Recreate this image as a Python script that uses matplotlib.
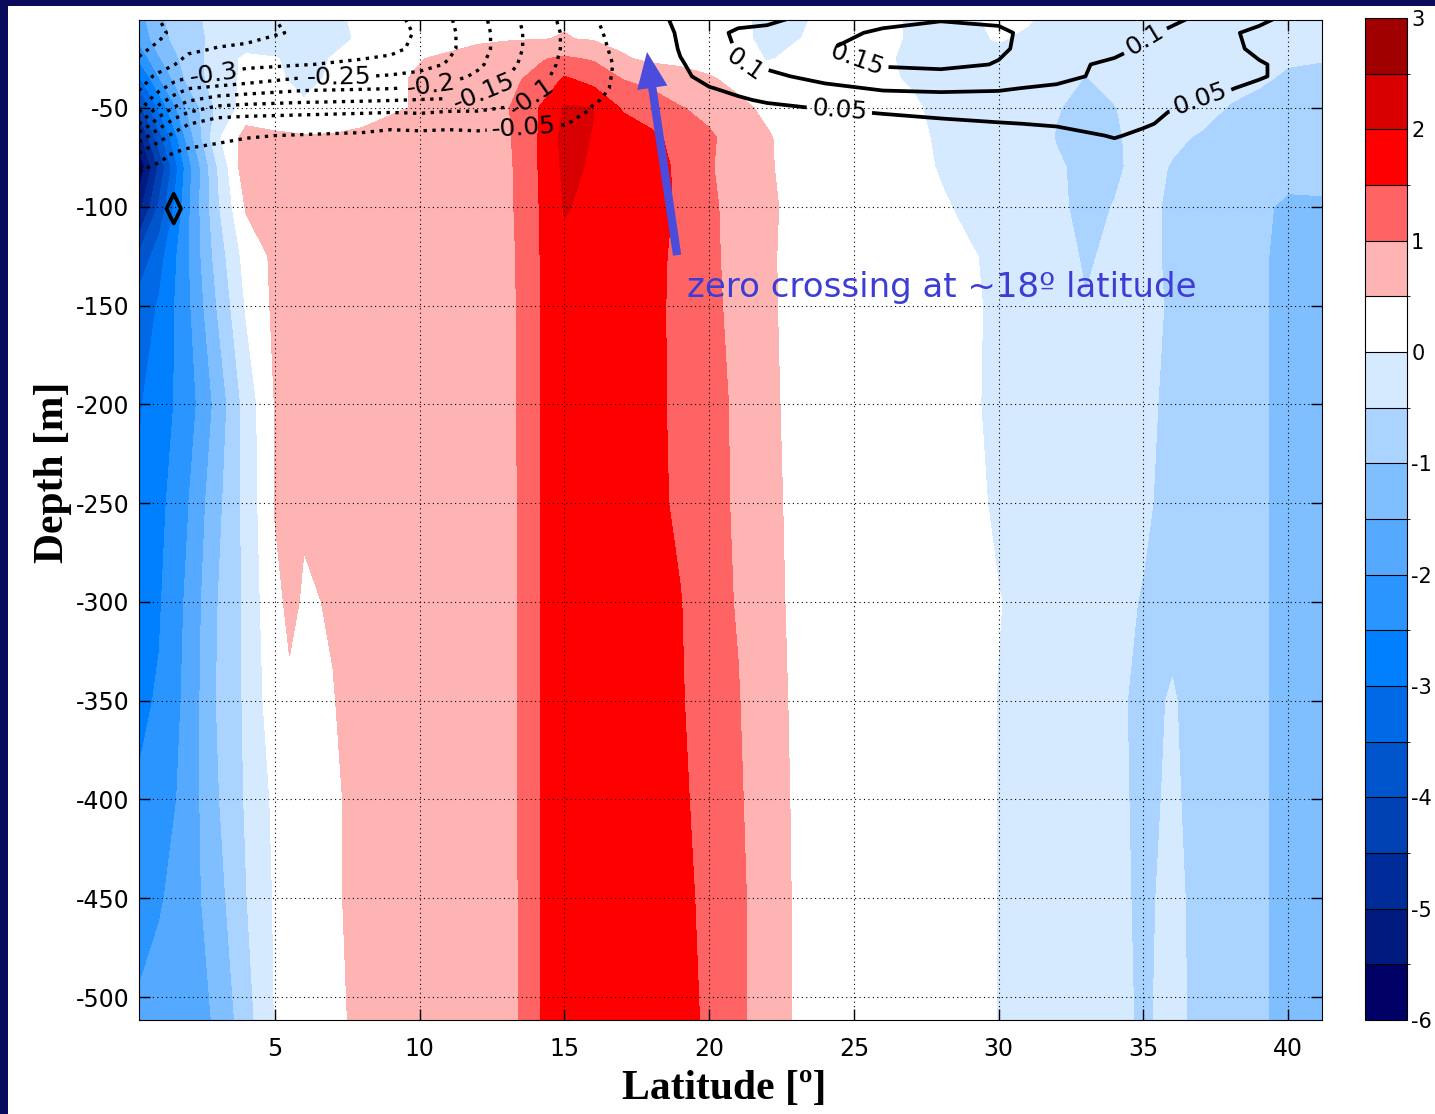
import numpy as np
import matplotlib
matplotlib.use("Agg")
import matplotlib.pyplot as plt
from matplotlib.colors import ListedColormap, BoundaryNorm
from matplotlib.patches import Rectangle

plt.rcParams['font.family'] = ['DejaVu Sans']
plt.rcParams['axes.unicode_minus'] = False

# ---- filled field: latitude nodes, depth nodes, values
lat = [0.3, 1, 2, 3, 4, 5, 5.5, 6, 7, 8,
       10, 12, 13, 13.5, 14.3, 15, 16, 17, 18, 19,
       20, 21, 22, 23, 25, 27, 28, 29, 30, 31,
       32, 33, 34, 35, 36, 37, 38, 39, 40, 41.2]
depth = [-5, -15, -25, -35, -50, -65, -80, -100, -125, -150,
         -200, -250, -300, -350, -400, -450, -512]
anom = np.array([
    [-1.7, -1.1, -0.6, -0.4, -0.3, -0.25, -0.22, -0.2, -0.1, 0.1,
     0.2, 0.3, 0.35, 0.38, 0.42, 0.46, 0.4, 0.3, 0.2, 0.15,
     0.12, 0.1, -0.12, -0.03, 0.1, -0.02, -0.1, -0.03, 0.05, 0.03,
     -0.1, -0.15, -0.2, -0.2, -0.2, -0.25, -0.28, -0.3, -0.35, -0.4],
    [-1.9, -1.2, -0.65, -0.4, -0.3, -0.25, -0.22, -0.2, -0.1, 0.05,
     0.25, 0.42, 0.46, 0.47, 0.49, 0.52, 0.46, 0.38, 0.3, 0.22,
     0.15, 0.08, -0.08, -0.01, 0.1, -0.02, -0.1, -0.05, 0.02, -0.05,
     -0.12, -0.15, -0.2, -0.22, -0.25, -0.28, -0.3, -0.33, -0.38, -0.42],
    [-2.4, -1.55, -0.75, -0.3, 0.1, 0.02, -0.05, -0.12, 0.02, 0.15,
     0.48, 0.7, 0.8, 0.88, 0.98, 1.06, 0.95, 0.55, 0.4, 0.35,
     0.28, 0.15, -0.02, 0.05, 0.12, -0.05, -0.12, -0.1, -0.08, -0.1,
     -0.2, -0.25, -0.25, -0.3, -0.3, -0.33, -0.38, -0.42, -0.46, -0.48],
    [-3.1, -2.02, -0.85, -0.25, 0.1, 0.05, -0.02, -0.1, 0.05, 0.3,
     0.55, 0.8, 0.9, 0.98, 1.2, 1.55, 1.3, 0.98, 0.85, 0.72,
     0.55, 0.35, 0.15, 0.1, 0.08, -0.02, -0.08, -0.1, -0.12, -0.15,
     -0.3, -0.52, -0.35, -0.3, -0.32, -0.35, -0.4, -0.45, -0.55, -0.6],
    [-4.2, -2.9, -1.4, -0.4, 0.2, 0.15, 0.1, 0.05, 0.1, 0.3,
     0.55, 0.85, 0.95, 1.2, 1.6, 2.05, 2.01, 1.45, 1.25, 1.02,
     0.9, 0.62, 0.4, 0.15, 0.05, 0.03, -0.05, -0.1, -0.15, -0.3,
     -0.48, -0.6, -0.52, -0.3, -0.35, -0.4, -0.52, -0.6, -0.7, -0.75],
    [-5.2, -3.7, -1.8, -0.1, 0.7, 0.6, 0.58, 0.55, 0.56, 0.6,
     0.65, 0.85, 0.95, 1.1, 1.65, 2.15, 1.98, 1.8, 1.6, 1.35,
     1.05, 0.85, 0.55, 0.3, 0.15, 0.05, -0.03, -0.08, -0.15, -0.3,
     -0.52, -0.62, -0.56, -0.35, -0.45, -0.53, -0.6, -0.7, -0.8, -0.85],
    [-5.9, -4.4, -2.2, -0.52, 0.85, 0.65, 0.65, 0.65, 0.68, 0.7,
     0.72, 0.85, 0.92, 1.1, 1.65, 2.1, 1.95, 1.85, 1.7, 1.4,
     1.02, 0.9, 0.55, 0.35, 0.2, 0.08, -0.02, -0.08, -0.12, -0.25,
     -0.45, -0.6, -0.55, -0.4, -0.52, -0.6, -0.68, -0.8, -0.9, -0.92],
    [-5.2, -3.9, -2.1, -0.6, 0.55, 0.6, 0.61, 0.62, 0.65, 0.7,
     0.75, 0.85, 0.92, 1.08, 1.62, 2.03, 1.9, 1.85, 1.7, 1.42,
     1.05, 0.9, 0.6, 0.35, 0.22, 0.12, 0.03, -0.05, -0.1, -0.2,
     -0.45, -0.57, -0.49, -0.42, -0.55, -0.62, -0.72, -0.95, -1.05, -1.03],
    [-3.9, -3.2, -2.05, -0.8, 0.2, 0.6, 0.61, 0.62, 0.65, 0.7,
     0.75, 0.85, 0.92, 1.05, 1.6, 1.9, 1.88, 1.8, 1.62, 1.4,
     1.05, 0.92, 0.6, 0.3, 0.25, 0.15, 0.1, 0.02, -0.05, -0.15,
     -0.4, -0.53, -0.45, -0.42, -0.55, -0.62, -0.75, -0.95, -1.1, -1.08],
    [-3.3, -2.95, -2.1, -0.98, 0.05, 0.6, 0.6, 0.6, 0.65, 0.7,
     0.75, 0.85, 0.9, 1.05, 1.6, 1.85, 1.85, 1.8, 1.62, 1.38,
     1.06, 0.93, 0.6, 0.32, 0.25, 0.18, 0.12, 0.04, -0.05, -0.12,
     -0.3, -0.49, -0.38, -0.38, -0.55, -0.62, -0.75, -0.95, -1.1, -1.1],
    [-3.05, -2.75, -2.25, -1.35, -0.3, 0.52, 0.56, 0.6, 0.65, 0.7,
     0.75, 0.85, 0.9, 1.05, 1.6, 1.85, 1.85, 1.8, 1.63, 1.38,
     1.1, 0.95, 0.62, 0.35, 0.25, 0.18, 0.12, 0.05, -0.08, -0.15,
     -0.25, -0.35, -0.4, -0.4, -0.6, -0.65, -0.78, -0.95, -1.1, -1.12],
    [-2.95, -2.65, -2.02, -1.15, -0.35, 0.52, 0.6, 0.53, 0.6, 0.68,
     0.75, 0.82, 0.88, 1.04, 1.6, 1.82, 1.85, 1.8, 1.65, 1.4,
     1.12, 0.95, 0.64, 0.38, 0.25, 0.18, 0.14, 0.08, -0.05, -0.1,
     -0.2, -0.3, -0.38, -0.45, -0.6, -0.68, -0.8, -0.95, -1.1, -1.15],
    [-2.8, -2.55, -1.9, -1.02, -0.4, 0.42, 0.56, 0.47, 0.52, 0.65,
     0.75, 0.82, 0.88, 1.04, 1.6, 1.8, 1.85, 1.82, 1.7, 1.52,
     1.15, 0.97, 0.66, 0.4, 0.25, 0.18, 0.14, 0.1, 0.01, -0.08,
     -0.18, -0.28, -0.42, -0.52, -0.6, -0.7, -0.82, -0.95, -1.1, -1.15],
    [-2.6, -2.45, -1.85, -0.98, -0.42, 0.3, 0.45, 0.4, 0.49, 0.6,
     0.75, 0.82, 0.87, 1.04, 1.6, 1.8, 1.85, 1.82, 1.72, 1.55,
     1.2, 1.02, 0.7, 0.42, 0.28, 0.2, 0.15, 0.1, -0.01, -0.1,
     -0.2, -0.3, -0.42, -0.6, -0.47, -0.65, -0.8, -0.95, -1.1, -1.15],
    [-2.45, -2.3, -1.8, -1.05, -0.45, 0.1, 0.25, 0.3, 0.45, 0.6,
     0.75, 0.8, 0.86, 1.04, 1.6, 1.8, 1.88, 1.85, 1.75, 1.6,
     1.28, 1.06, 0.72, 0.44, 0.28, 0.2, 0.15, 0.1, -0.01, -0.1,
     -0.2, -0.3, -0.42, -0.58, -0.45, -0.62, -0.8, -0.95, -1.1, -1.18],
    [-2.25, -2.05, -1.75, -1.2, -0.52, 0.05, 0.12, 0.2, 0.45, 0.6,
     0.75, 0.8, 0.85, 1.04, 1.6, 1.82, 1.9, 1.88, 1.8, 1.65,
     1.35, 1.1, 0.75, 0.45, 0.3, 0.2, 0.15, 0.1, -0.01, -0.1,
     -0.2, -0.3, -0.42, -0.56, -0.42, -0.6, -0.78, -0.95, -1.1, -1.2],
    [-1.9, -1.8, -1.7, -1.45, -0.7, 0.02, 0.1, 0.2, 0.4, 0.6,
     0.75, 0.8, 0.85, 1.04, 1.6, 1.85, 1.9, 1.9, 1.85, 1.7,
     1.4, 1.1, 0.75, 0.45, 0.3, 0.2, 0.15, 0.1, -0.01, -0.1,
     -0.2, -0.3, -0.4, -0.55, -0.4, -0.6, -0.75, -0.95, -1.1, -1.2],
])

# ---- line-contour field (near-surface), its own nodes
lat_c = [0.3, 1, 1.5, 2, 3, 4, 6, 8, 9,
         10, 11, 12, 13, 14, 15, 16, 17, 18,
         19, 20, 21, 22, 24, 26, 28, 30,
         32, 34, 35, 36, 37, 38, 39, 40, 41.2]
depth_c = [-5, -12, -20, -28, -34, -40, -46, -52, -58, -64, -72, -86, -101, -116, -512]
psi = np.array([
    [-0.42, -0.40, -0.38, -0.37, -0.36, -0.355, -0.345, -0.33, -0.31,
     -0.29, -0.255, -0.215, -0.17, -0.125, -0.09, -0.055, -0.02, 0.02,
     0.07, 0.085, 0.09, 0.092, 0.115, 0.14, 0.148, 0.145,
     0.13, 0.115, 0.11, 0.105, 0.095, 0.08, 0.06, 0.04, 0.03],
    [-0.42, -0.41, -0.39, -0.38, -0.37, -0.36, -0.345, -0.33, -0.315,
     -0.295, -0.26, -0.22, -0.175, -0.13, -0.095, -0.06, -0.03, 0.01,
     0.06, 0.09, 0.105, 0.11, 0.14, 0.155, 0.16, 0.155,
     0.135, 0.115, 0.105, 0.095, 0.085, 0.055, 0.04, 0.03, 0.02],
    [-0.41, -0.39, -0.37, -0.36, -0.348, -0.345, -0.335, -0.32, -0.31,
     -0.29, -0.26, -0.22, -0.175, -0.13, -0.095, -0.06, -0.04, 0.0,
     0.055, 0.088, 0.102, 0.11, 0.148, 0.165, 0.17, 0.155,
     0.13, 0.11, 0.095, 0.085, 0.075, 0.055, 0.045, 0.035, 0.03],
    [-0.39, -0.37, -0.352, -0.33, -0.32, -0.31, -0.302, -0.29, -0.285,
     -0.27, -0.245, -0.21, -0.165, -0.125, -0.09, -0.06, -0.045, -0.01,
     0.045, 0.075, 0.098, 0.108, 0.135, 0.155, 0.16, 0.148,
     0.11, 0.093, 0.085, 0.075, 0.068, 0.06, 0.052, 0.045, 0.04],
    [-0.37, -0.34, -0.32, -0.305, -0.295, -0.28, -0.255, -0.252, -0.245,
     -0.235, -0.22, -0.19, -0.152, -0.115, -0.085, -0.058, -0.045, -0.03,
     0.04, 0.065, 0.08, 0.09, 0.115, 0.13, 0.135, 0.13,
     0.11, 0.09, 0.08, 0.07, 0.065, 0.058, 0.052, 0.045, 0.04],
    [-0.355, -0.31, -0.28, -0.252, -0.24, -0.23, -0.21, -0.205, -0.202,
     -0.195, -0.185, -0.165, -0.135, -0.105, -0.08, -0.056, -0.045, -0.04,
     0.02, 0.048, 0.06, 0.07, 0.09, 0.105, 0.106, 0.103,
     0.095, 0.08, 0.072, 0.065, 0.058, 0.051, 0.045, 0.04, 0.035],
    [-0.33, -0.27, -0.23, -0.205, -0.18, -0.17, -0.16, -0.155, -0.152,
     -0.148, -0.145, -0.14, -0.115, -0.095, -0.075, -0.053, -0.04, -0.025,
     0.005, 0.03, 0.045, 0.055, 0.07, 0.08, 0.088, 0.09,
     0.085, 0.075, 0.068, 0.06, 0.049, 0.045, 0.04, 0.035, 0.03],
    [-0.302, -0.22, -0.18, -0.152, -0.12, -0.115, -0.11, -0.105, -0.102,
     -0.105, -0.098, -0.097, -0.09, -0.075, -0.065, -0.045, -0.03, -0.02,
     -0.005, 0.01, 0.025, 0.035, 0.045, 0.053, 0.06, 0.065,
     0.065, 0.06, 0.056, 0.049, 0.04, 0.035, 0.03, 0.025, 0.02],
    [-0.252, -0.17, -0.13, -0.102, -0.08, -0.075, -0.07, -0.065, -0.06,
     -0.065, -0.06, -0.065, -0.06, -0.055, -0.052, -0.035, -0.02, -0.01,
     0.0, 0.005, 0.012, 0.018, 0.03, 0.035, 0.042, 0.048,
     0.053, 0.055, 0.053, 0.045, 0.035, 0.03, 0.025, 0.02, 0.015],
    [-0.18, -0.12, -0.09, -0.07, -0.055, -0.052, -0.048, -0.045, -0.04,
     -0.04, -0.04, -0.04, -0.035, -0.035, -0.03, -0.02, -0.01, 0.0,
     0.0, 0.0, 0.005, 0.01, 0.02, 0.025, 0.03, 0.035,
     0.04, 0.052, 0.045, 0.035, 0.03, 0.025, 0.02, 0.015, 0.01],
    [-0.105, -0.07, -0.052, -0.045, -0.045, -0.04, -0.035, -0.03, -0.025,
     -0.025, -0.02, -0.02, -0.02, -0.02, -0.015, -0.01, 0.0, 0.0,
     0.0, 0.0, 0.0, 0.005, 0.01, 0.015, 0.02, 0.025,
     0.03, 0.04, 0.035, 0.025, 0.02, 0.015, 0.01, 0.01, 0.01],
    [-0.03, -0.02, 0.0, -0.01, -0.01, -0.01, -0.01, -0.01, -0.005,
     0, 0, 0, 0, 0, 0, 0, 0, 0,
     0, 0, 0, 0, 0, 0, 0, 0,
     0, 0, 0, 0, 0, 0, 0, 0, 0],
    [0, 0, 0.1, 0, 0, 0, 0, 0, 0,
     0, 0, 0, 0, 0, 0, 0, 0, 0,
     0, 0, 0, 0, 0, 0, 0, 0,
     0, 0, 0, 0, 0, 0, 0, 0, 0],
    [0] * 35,
    [0] * 35,
])

fill_levels = np.arange(-6, 3.01, 0.5)
fill_colors = ['#000066', '#001a80', '#002c99', '#0042b3', '#0055cc', '#0069e6',
               '#0080ff', '#2a95ff', '#55aaff', '#80bfff', '#aad4ff', '#d6eaff',
               '#ffffff', '#ffb4b4', '#ff6464', '#ff0000', '#d80000', '#a00000']
neg_levels = [-0.4, -0.35, -0.3, -0.25, -0.2, -0.15, -0.1, -0.05]
pos_levels = [0.05, 0.1, 0.15]
neg_label_at = [(2.9, -35), (7.2, -33), (10.4, -38), (12.3, -45), (14.0, -47), (13.6, -60)]
pos_label_at = [(21.2, -29), (25.0, -29), (24.5, -50), (35.1, -17), (37.0, -47)]
xticks = [5, 10, 15, 20, 25, 30, 35, 40]
yticks = [-500, -450, -400, -350, -300, -250, -200, -150, -100, -50]

W, H = 1435, 1114
fig = plt.figure(figsize=(W / 100, H / 100), dpi=100)
fig.patch.set_facecolor('#0b0b5c')
fig.add_artist(Rectangle((8 / W, 0), 1 - 8 / W, 1 - 6 / H, transform=fig.transFigure,
                         facecolor='white', edgecolor='none', zorder=0))

ax = fig.add_axes([139 / W, 94 / H, (1322 - 139) / W, (1020 - 20) / H])
cax = fig.add_axes([1365 / W, 94 / H, 42 / W, (1020 - 18) / H])

cmap = ListedColormap(fill_colors)
norm = BoundaryNorm(fill_levels, cmap.N)
cf = ax.contourf(lat, depth, anom, levels=fill_levels, cmap=cmap, norm=norm)

cn = ax.contour(lat_c, depth_c, psi, levels=neg_levels, colors='k',
                linewidths=2.4, linestyles=':')
cp = ax.contour(lat_c, depth_c, psi, levels=pos_levels, colors='k',
                linewidths=2.7, linestyles='-')
ax.clabel(cn, manual=neg_label_at, inline=True, fontsize=18, fmt='%g')
ax.clabel(cp, manual=pos_label_at, inline=True, fontsize=18, fmt='%g')

ax.set_xlim(0.3, 41.17)
ax.set_ylim(-511.6, -5.5)
ax.set_xticks(xticks)
ax.set_yticks(yticks)
ax.grid(True, color='k', linestyle=(0, (1, 3)), linewidth=0.8)
ax.tick_params(direction='in', length=8, width=1, top=True, right=True, labelsize=17)
ax.tick_params(axis='x', pad=12)
ax.tick_params(axis='y', pad=7)

ax.set_xlabel('Latitude [º]', fontsize=30, fontweight='bold', family='Liberation Serif')
ax.set_ylabel('Depth [m]', fontsize=30, fontweight='bold', family='Liberation Serif')
ax.xaxis.set_label_coords(0.495, -0.05)
ax.yaxis.set_label_coords(-0.057, 0.548)

ax.annotate('', xy=(17.85, -21.7), xytext=(18.89, -124.5),
            arrowprops=dict(facecolor='#4b4bdc', edgecolor='none', width=6,
                            headwidth=22, headlength=26, shrink=0))
ax.text(19.24, -141, 'zero crossing at ~18º latitude', color='#3d3dd6',
        fontsize=24.5, va='center', ha='left')

cb = fig.colorbar(cf, cax=cax, ticks=range(-6, 4), drawedges=True)
cb.dividers.set_color('k')
cb.dividers.set_linewidth(0.8)
cb.outline.set_linewidth(0.8)
cb.ax.tick_params(labelsize=15, length=0, pad=3)

fig.savefig('out.png', dpi=100)
